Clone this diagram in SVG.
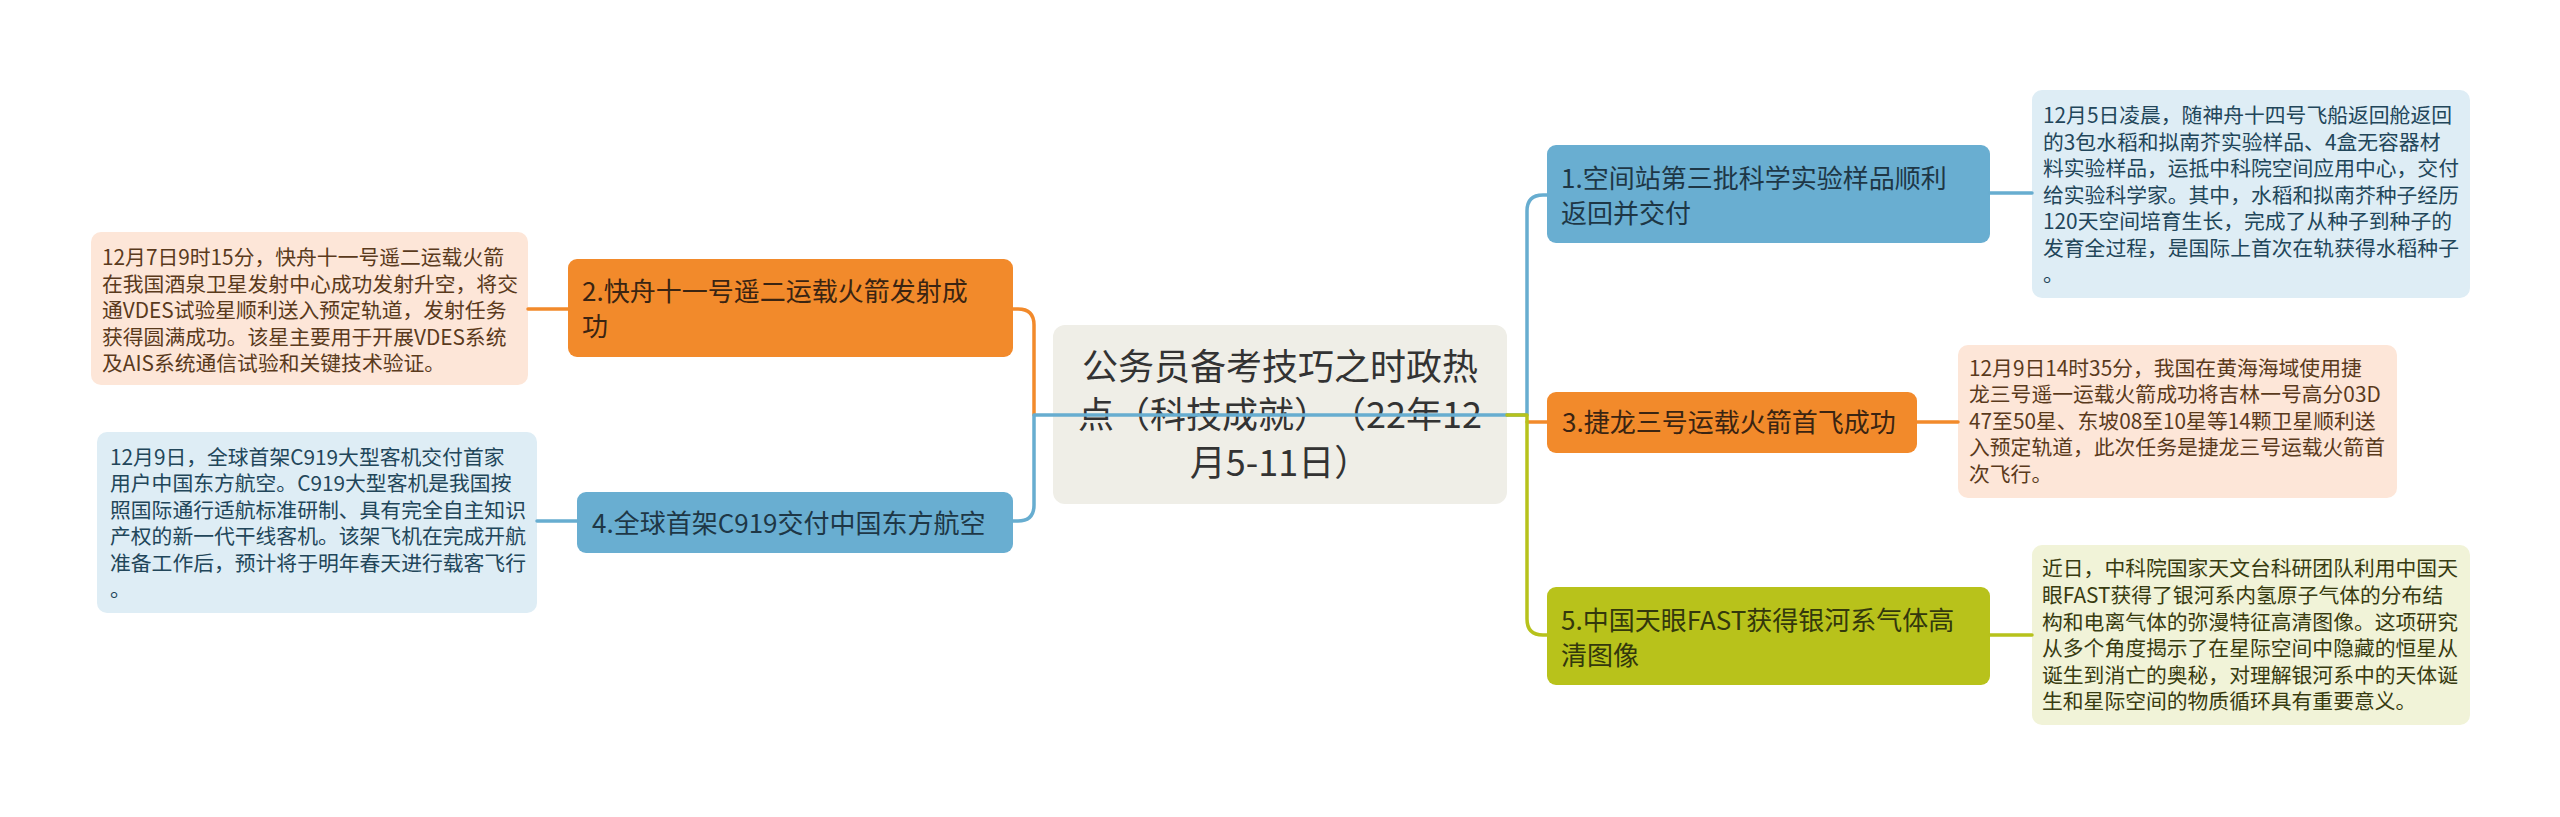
<svg xmlns="http://www.w3.org/2000/svg" width="2560" height="817" viewBox="0 0 2560 817">
<style>
text{font-family:"Noto Sans CJK SC","Noto Sans",sans-serif;text-spacing-trim:space-all;}
.root{font-size:36px;fill:#333333;text-anchor:middle;}
.nt{font-size:26px;}
.dt{font-size:20.8px;}
.conn{fill:none;stroke-width:3.5;stroke-linecap:round;stroke-linejoin:round;}
.cb{stroke:#67add0;}
.co{stroke:#f28a2b;}
.cg{stroke:#b7c21c;}
</style>
<rect x="0" y="0" width="2560" height="817" fill="#ffffff"/>
<g id="root">
<rect x="1053" y="325" width="454" height="179" rx="12" fill="#efeee7"/>
<text class="root" x="1280" y="380">公务员备考技巧之时政热</text>
<text class="root" x="1280" y="428">点（科技成就）（22年12</text>
<text class="root" x="1280" y="476">月5-11日）</text>
</g>
<g id="node1">
<rect x="1547" y="145" width="443" height="98" rx="9" fill="#69aed1"/>
<text class="nt" x="1561" y="188" fill="#1e3746">1.空间站第三批科学实验样品顺利</text>
<text class="nt" x="1561" y="223" fill="#1e3746">返回并交付</text>
</g>
<g id="node2">
<rect x="568" y="259" width="445" height="98" rx="9" fill="#f28a2b"/>
<text class="nt" x="582" y="301" fill="#3a2412">2.快舟十一号遥二运载火箭发射成</text>
<text class="nt" x="582" y="336" fill="#3a2412">功</text>
</g>
<g id="node3">
<rect x="1547" y="392" width="370" height="61" rx="9" fill="#f28a2b"/>
<text class="nt" x="1562" y="432" fill="#3a2412">3.捷龙三号运载火箭首飞成功</text>
</g>
<g id="node4">
<rect x="577" y="492" width="436" height="61" rx="9" fill="#69aed1"/>
<text class="nt" x="592" y="533" fill="#1e3746">4.全球首架C919交付中国东方航空</text>
</g>
<g id="node5">
<rect x="1547" y="587" width="443" height="98" rx="9" fill="#b8c21b"/>
<text class="nt" x="1561" y="630" fill="#33380c">5.中国天眼FAST获得银河系气体高</text>
<text class="nt" x="1561" y="665" fill="#33380c">清图像</text>
</g>
<g id="detail1">
<rect x="2032" y="90" width="438" height="208" rx="10" fill="#deedf5"/>
<g class="dt" fill="#22465a">
<text x="2043" y="123">12月5日凌晨，随神舟十四号飞船返回舱返回</text>
<text x="2043" y="150">的3包水稻和拟南芥实验样品、4盒无容器材</text>
<text x="2043" y="176">料实验样品，运抵中科院空间应用中心，交付</text>
<text x="2043" y="203">给实验科学家。其中，水稻和拟南芥种子经历</text>
<text x="2043" y="229">120天空间培育生长，完成了从种子到种子的</text>
<text x="2043" y="256">发育全过程，是国际上首次在轨获得水稻种子</text>
<text x="2043" y="282">。</text>
</g>
</g>
<g id="detail2">
<rect x="91" y="232" width="437" height="153" rx="10" fill="#fde6d8"/>
<g class="dt" fill="#5a3a1c">
<text x="102" y="265">12月7日9时15分，快舟十一号遥二运载火箭</text>
<text x="102" y="292">在我国酒泉卫星发射中心成功发射升空，将交</text>
<text x="102" y="318">通VDES试验星顺利送入预定轨道，发射任务</text>
<text x="102" y="345">获得圆满成功。该星主要用于开展VDES系统</text>
<text x="102" y="371">及AIS系统通信试验和关键技术验证。</text>
</g>
</g>
<g id="detail3">
<rect x="1958" y="345" width="439" height="153" rx="10" fill="#fde6d8"/>
<g class="dt" fill="#5a3a1c">
<text x="1969" y="376">12月9日14时35分，我国在黄海海域使用捷</text>
<text x="1969" y="402">龙三号遥一运载火箭成功将吉林一号高分03D</text>
<text x="1969" y="429">47至50星、东坡08至10星等14颗卫星顺利送</text>
<text x="1969" y="455">入预定轨道，此次任务是捷龙三号运载火箭首</text>
<text x="1969" y="482">次飞行。</text>
</g>
</g>
<g id="detail4">
<rect x="97" y="432" width="440" height="181" rx="10" fill="#deedf5"/>
<g class="dt" fill="#22465a">
<text x="110" y="465">12月9日，全球首架C919大型客机交付首家</text>
<text x="110" y="491">用户中国东方航空。C919大型客机是我国按</text>
<text x="110" y="518">照国际通行适航标准研制、具有完全自主知识</text>
<text x="110" y="544">产权的新一代干线客机。该架飞机在完成开航</text>
<text x="110" y="571">准备工作后，预计将于明年春天进行载客飞行</text>
<text x="110" y="597">。</text>
</g>
</g>
<g id="detail5">
<rect x="2032" y="545" width="438" height="180" rx="10" fill="#f1f3d8"/>
<g class="dt" fill="#383b10">
<text x="2042" y="576">近日，中科院国家天文台科研团队利用中国天</text>
<text x="2042" y="603">眼FAST获得了银河系内氢原子气体的分布结</text>
<text x="2042" y="630">构和电离气体的弥漫特征高清图像。这项研究</text>
<text x="2042" y="656">从多个角度揭示了在星际空间中隐藏的恒星从</text>
<text x="2042" y="683">诞生到消亡的奥秘，对理解银河系中的天体诞</text>
<text x="2042" y="709">生和星际空间的物质循环具有重要意义。</text>
</g>
</g>
<g id="connectors">
<path class="conn co" d="M1034,415 V325 Q1034,309 1018,309 H1013"/>
<path class="conn cb" d="M1507,415 H1034 V505 Q1034,521 1018,521 H1013"/>
<path class="conn cb" d="M1507,415 H1527 V211 Q1527,195 1543,195 H1547"/>
<path class="conn co" d="M1527,422 H1547"/>
<path class="conn cg" d="M1507,415 H1527 V619 Q1527,635 1543,635 H1547"/>
<path class="conn co" d="M568,309 H528"/>
<path class="conn cb" d="M577,521 H537"/>
<path class="conn cb" d="M1990,193 H2032"/>
<path class="conn co" d="M1917,422 H1958"/>
<path class="conn cg" d="M1990,635 H2032"/>
</g>
</svg>
